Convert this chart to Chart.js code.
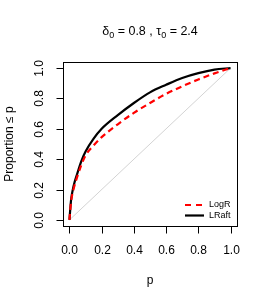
<!DOCTYPE html>
<html>
<head>
<meta charset="utf-8">
<script src="https://cdn.jsdelivr.net/npm/chart.js@4"></script>
<style>
  body { margin: 0; background: #fff; }
  canvas { display: block; }
</style>
</head>
<body>
<canvas id="myChart" width="266" height="304"></canvas>
<script>
// values
var pGrid = [0, 0.01, 0.025, 0.05, 0.075, 0.1, 0.15, 0.2, 0.3, 0.4, 0.5, 0.6, 0.7, 0.8, 0.9, 1];
var lraft = [0, 0.13, 0.22, 0.31, 0.39, 0.45, 0.535, 0.6, 0.69, 0.77, 0.84, 0.89, 0.935, 0.967, 0.99, 1];
var logr  = [0, 0.12, 0.2, 0.29, 0.365, 0.425, 0.49, 0.545, 0.63, 0.705, 0.77, 0.83, 0.88, 0.925, 0.965, 1];
var diagX = [0, 1];
var tickVals = [0, 0.2, 0.4, 0.6, 0.8, 1];
var tickLabels = ["0.0", "0.2", "0.4", "0.6", "0.8", "1.0"];
var seriesNames = ["LogR", "LRaft"];

function pts(xs, ys) {
  var out = [];
  for (var i in xs) {
    out.push({x: xs[i], y: ys[i]});
  }
  return out;
}

var FONT = "'Liberation Sans', Arial, Helvetica, sans-serif";

var rAxes = {
  id: 'rAxes',
  afterDraw: function(chart) {
    var ctx = chart.ctx;
    var a = chart.chartArea;
    var xs = chart.scales.x, ys = chart.scales.y;
    ctx.save();
    ctx.strokeStyle = "#000";
    ctx.lineWidth = 1;
    // box
    ctx.strokeRect(Math.round(a.left) + 0.5, Math.round(a.top) + 0.5,
      Math.round(a.right - a.left), Math.round(a.bottom - a.top));
    ctx.fillStyle = "#000";
    ctx.font = "12px " + FONT;
    // x ticks
    ctx.textAlign = "center";
    ctx.textBaseline = "middle";
    var bottom = Math.round(a.bottom) + 0.5;
    for (var i in tickVals) {
      var px = Math.round(xs.getPixelForValue(tickVals[i])) + 0.5;
      ctx.beginPath();
      ctx.moveTo(px, bottom);
      ctx.lineTo(px, bottom + 7);
      ctx.stroke();
      ctx.fillText(tickLabels[i], px, 251);
    }
    // y ticks
    var left = Math.round(a.left) + 0.5;
    for (var j in tickVals) {
      var py = Math.round(ys.getPixelForValue(tickVals[j])) + 0.5;
      ctx.beginPath();
      ctx.moveTo(left, py);
      ctx.lineTo(left - 7, py);
      ctx.stroke();
      ctx.save();
      ctx.translate(40, py);
      ctx.rotate(-Math.PI / 2);
      ctx.fillText(tickLabels[j], 0, 0);
      ctx.restore();
    }
    var cx = (a.left + a.right) / 2, cy = (a.top + a.bottom) / 2;
    // axis titles
    ctx.fillText("p", cx, 281);
    ctx.save();
    ctx.translate(10, cy);
    ctx.rotate(-Math.PI / 2);
    ctx.fillText("Proportion \u2264 p", 0, 0);
    ctx.restore();

    // main title with subscripts
    var parts = [
      {t: "\u03b4", sub: false}, {t: "0", sub: true}, {t: " = 0.8 , \u03c4", sub: false},
      {t: "0", sub: true}, {t: " = 2.4", sub: false}
    ];
    var big = "12.5px " + FONT, small = "9px " + FONT;
    var w = 0;
    for (var k in parts) {
      ctx.font = parts[k].sub ? small : big;
      w += ctx.measureText(parts[k].t).width;
    }
    var tx = cx - w / 2;
    ctx.textAlign = "left";
    ctx.textBaseline = "alphabetic";
    for (var m in parts) {
      ctx.font = parts[m].sub ? small : big;
      ctx.fillText(parts[m].t, tx, parts[m].sub ? 38 : 35);
      tx += ctx.measureText(parts[m].t).width;
    }

    // legend
    ctx.font = "9px " + FONT;
    ctx.textBaseline = "middle";
    ctx.lineWidth = 2.2;
    ctx.strokeStyle = "#ff0000";
    ctx.setLineDash([6, 5]);
    ctx.beginPath();
    ctx.moveTo(185, 205);
    ctx.lineTo(204, 205);
    ctx.stroke();
    ctx.setLineDash([]);
    ctx.strokeStyle = "#000";
    ctx.beginPath();
    ctx.moveTo(185, 215.5);
    ctx.lineTo(204, 215.5);
    ctx.stroke();
    ctx.fillStyle = "#000";
    ctx.fillText(seriesNames[0], 209, 205);
    ctx.fillText(seriesNames[1], 209, 215.5);
    ctx.restore();
  }
};

var ctx = document.getElementById("myChart");
var chart = new Chart(ctx, {
  type: 'scatter',
  data: {
    datasets: [
      {
        label: seriesNames[0],
        data: pts(pGrid, logr),
        showLine: true,
        borderColor: "#ff0000",
        borderWidth: 2.2,
        borderDash: [6, 4],
        pointRadius: 0,
        cubicInterpolationMode: 'monotone'
      },
      {
        label: seriesNames[1],
        data: pts(pGrid, lraft),
        showLine: true,
        borderColor: "#000000",
        borderWidth: 2.2,
        pointRadius: 0,
        cubicInterpolationMode: 'monotone'
      },
      {
        label: 'diag',
        data: pts(diagX, diagX),
        showLine: true,
        borderColor: "#d3d3d3",
        borderWidth: 1,
        pointRadius: 0
      }
    ]
  },
  options: {
    responsive: false,
    animation: false,
    devicePixelRatio: 1,
    layout: { padding: { left: 63, top: 62, right: 29, bottom: 78 } },
    plugins: { legend: { display: false }, tooltip: { enabled: false } },
    scales: {
      x: { type: 'linear', min: -0.04, max: 1.04, display: false },
      y: { type: 'linear', min: -0.04, max: 1.04, display: false }
    }
  },
  plugins: [rAxes]
});
</script>
</body>
</html>
